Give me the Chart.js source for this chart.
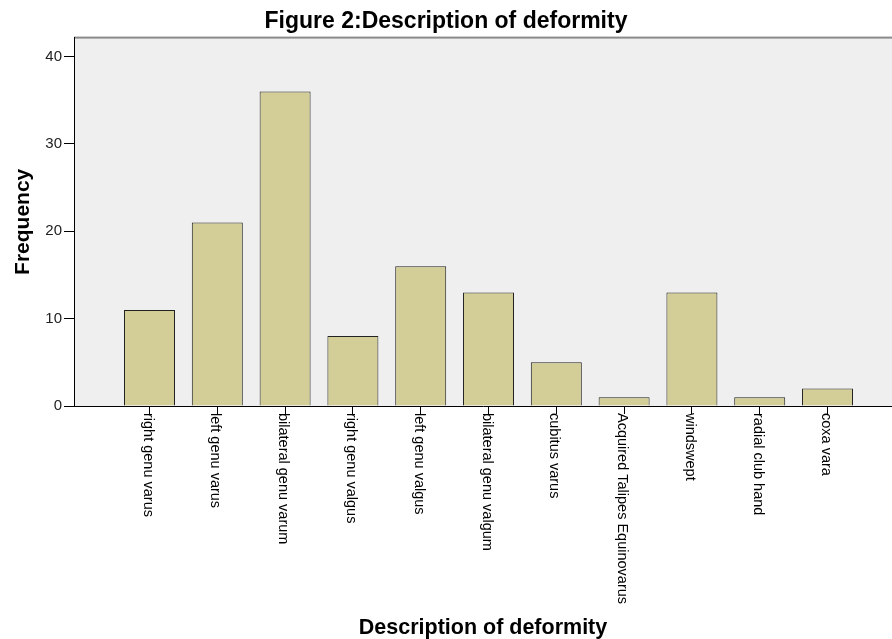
<!DOCTYPE html>
<html>
<head>
<meta charset="utf-8">
<script src="https://cdn.jsdelivr.net/npm/chart.js@4/dist/chart.umd.min.js"></script>
<style>
  html, body { margin: 0; padding: 0; background: #fff; }
  #wrap { width: 892px; height: 639px; }
</style>
</head>
<body>
<div id="wrap"><canvas id="bar-chart"></canvas></div>
<script>
var categories = ["right genu varus", "left genu varus", "bilateral genu varum", "right genu valgus",
  "left genu valgus", "bilateral genu valgum", "cubitus varus", "Acquired Talipes Equinovarus",
  "windswept", "radial club hand", "coxa vara"];
var frequency = [11, 21, 36, 8, 16, 13, 5, 1, 13, 1, 2];
var yTicks = [0, 10, 20, 30, 40];

var FONT = "'Liberation Sans', Arial, sans-serif";
Chart.defaults.font.family = FONT;
Chart.defaults.color = '#000';

var plotBackground = {
  id: 'plotBackground',
  beforeDraw: function(chart) {
    var a = chart.chartArea, ctx = chart.ctx;
    ctx.save();
    ctx.fillStyle = '#efefef';
    ctx.fillRect(a.left, a.top, a.right - a.left, a.bottom - a.top);
    ctx.fillStyle = '#8a8a8a';
    ctx.fillRect(a.left, a.top - 1, a.right - a.left, 2);
    ctx.restore();
  }
};

// category names drawn top-to-bottom under each tick
var downLabels = {
  id: 'downLabels',
  afterDraw: function(chart) {
    var x = chart.scales.x, ctx = chart.ctx;
    ctx.save();
    ctx.font = '14.5px ' + FONT;
    ctx.fillStyle = '#000';
    ctx.textAlign = 'left';
    ctx.textBaseline = 'alphabetic';
    categories.forEach(function(name, i) {
      ctx.save();
      ctx.translate(x.getPixelForValue(i) - 6, x.top + 7);
      ctx.rotate(Math.PI / 2);
      ctx.fillText(name, 0, 0);
      ctx.restore();
    });
    ctx.restore();
  }
};

new Chart(document.getElementById("bar-chart"), {
  type: 'bar',
  data: {
    datasets: [{
      label: 'Frequency',
      data: frequency.map(function(v, i) { return {x: i, y: v}; }),
      backgroundColor: '#d3ce97',
      borderColor: '#222',
      borderWidth: 1,
      barPercentage: 0.752,
      categoryPercentage: 1
    }]
  },
  options: {
    responsive: true,
    maintainAspectRatio: false,
    animation: false,
    layout: { padding: 0 },
    plugins: {
      legend: { display: false },
      tooltip: { enabled: false },
      title: {
        display: true,
        text: 'Figure 2:Description of deformity',
        color: '#000',
        font: { size: 23, weight: 'bold' },
        padding: { top: 8, bottom: 2 }
      }
    },
    scales: {
      x: {
        type: 'linear',
        offset: false,
        min: -1.1136,
        max: 10.951,
        afterBuildTicks: function(s) {
          s.ticks = categories.map(function(c, i) { return {value: i}; });
        },
        afterFit: function(s) { s.height = 233; },
        ticks: {
          color: 'rgba(0,0,0,0)',
          minRotation: 90,
          maxRotation: 90,
          callback: function(v) { return categories[v]; }
        },
        grid: { offset: false, drawOnChartArea: false, drawTicks: true, tickLength: 8, color: '#000' },
        border: { color: '#000', width: 1 },
        title: {
          display: true,
          text: 'Description of deformity',
          color: '#000',
          font: { size: 21.5, weight: 'bold', lineHeight: 1 },
          padding: 0
        }
      },
      y: {
        min: 0,
        max: 42.17,
        afterBuildTicks: function(s) {
          s.ticks = yTicks.map(function(v) { return {value: v}; });
        },
        afterFit: function(s) { s.width = 74; },
        ticks: { font: { size: 15 }, padding: 2, color: '#222' },
        grid: { drawOnChartArea: false, drawTicks: true, tickLength: 10, color: '#000' },
        border: { color: '#000', width: 1 },
        title: {
          display: true,
          text: 'Frequency',
          color: '#000',
          font: { size: 21, weight: 'bold', lineHeight: 1 },
          padding: { top: 13, bottom: 0 }
        }
      }
    }
  },
  plugins: [plotBackground, downLabels]
});
</script>
</body>
</html>
